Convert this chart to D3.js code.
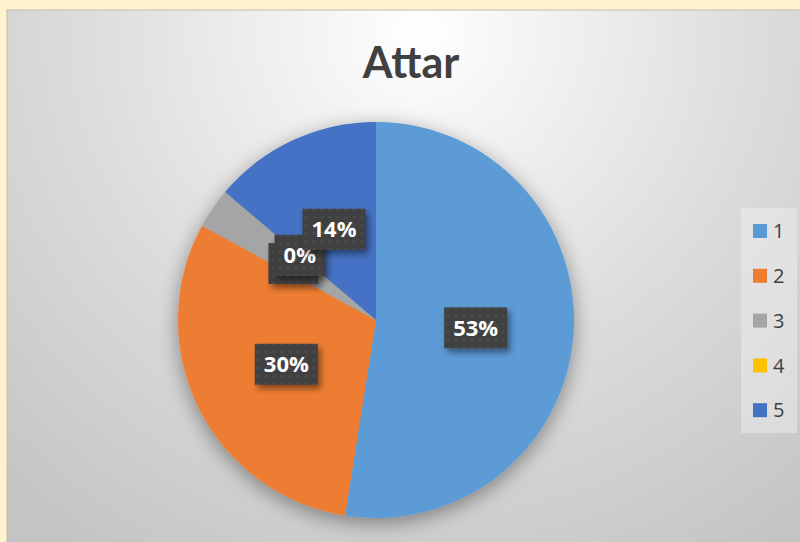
<!DOCTYPE html>
<html>
<head>
<meta charset="utf-8">
<script src="https://cdn.jsdelivr.net/npm/d3@7"></script>
<style>
  html, body { margin: 0; padding: 0; background: #fff2cc; }
  svg { display: block; }
</style>
</head>
<body>
<svg id="chart" width="800" height="542"></svg>
<script>
// data
var categories = ["1", "2", "3", "4", "5"];
var values = [52.5, 30.4, 3.3, 0, 13.8];
// slice 3's label sits hidden under the 0% box, only its box edge shows
var labels = ["53%", "30%", "", "0%", "14%"];
var colors = ["#5b9bd5", "#ed7d31", "#a5a5a5", "#ffc000", "#4472c4"];
var title = "Attar";

var svg = d3.select("#chart"),
    width = +svg.attr("width"),
    height = +svg.attr("height");

var defs = svg.append("defs");

var bg = defs.append("radialGradient")
    .attr("id", "bg")
    .attr("gradientUnits", "userSpaceOnUse")
    .attr("cx", 420).attr("cy", 30).attr("r", 620);
bg.append("stop").attr("offset", "0").attr("stop-color", "#ffffff");
bg.append("stop").attr("offset", "0.55").attr("stop-color", "#dcdcdc");
bg.append("stop").attr("offset", "1").attr("stop-color", "#c4c4c4");

var pieShadow = defs.append("filter").attr("id", "pieShadow")
    .attr("x", "-20%").attr("y", "-20%").attr("width", "140%").attr("height", "140%");
pieShadow.append("feDropShadow")
    .attr("dx", 0).attr("dy", 5).attr("stdDeviation", 10)
    .attr("flood-color", "#000").attr("flood-opacity", 0.4);

var boxShadow = defs.append("filter").attr("id", "boxShadow")
    .attr("x", "-30%").attr("y", "-30%").attr("width", "160%").attr("height", "160%");
boxShadow.append("feDropShadow")
    .attr("dx", 3).attr("dy", 4).attr("stdDeviation", 3)
    .attr("flood-color", "#000").attr("flood-opacity", 0.45);

var dots = defs.append("pattern")
    .attr("id", "dots")
    .attr("patternUnits", "userSpaceOnUse")
    .attr("width", 8).attr("height", 8);
dots.append("rect").attr("width", 8).attr("height", 8).attr("fill", "#404040");
dots.append("circle").attr("cx", 4).attr("cy", 4).attr("r", 1.6).attr("fill", "#4c4c4c");

// chart area
svg.append("rect")
    .attr("x", 7).attr("y", 10)
    .attr("width", width).attr("height", height)
    .attr("fill", "url(#bg)")
    .attr("stroke", "#bdbdbd");

svg.append("text")
    .attr("x", 411).attr("y", 78)
    .attr("text-anchor", "middle")
    .style("font-family", "Lato, 'Open Sans', sans-serif")
    .style("font-weight", "bold")
    .style("font-size", "43px")
    .attr("fill", "#404040")
    .text(title);

var radius = 198;
var g = svg.append("g")
    .attr("transform", "translate(376,320)");

var pie = d3.pie().sort(null).value(function(d) { return d; });
var arc = d3.arc().innerRadius(0).outerRadius(radius);
var labelArc = d3.arc().innerRadius(100).outerRadius(100);

var arcs = pie(values);

g.append("g")
    .attr("filter", "url(#pieShadow)")
    .selectAll("path")
    .data(arcs)
    .enter().append("path")
    .attr("fill", function(d, i) { return colors[i]; })
    .attr("d", arc);

var lab = g.selectAll(".lab")
    .data(arcs)
    .enter().append("g")
    .attr("class", "lab")
    .attr("transform", function(d) { return "translate(" + labelArc.centroid(d) + ")"; });

var box = lab.append("rect")
    .attr("fill", "url(#dots)")
    .attr("filter", "url(#boxShadow)");

var txt = lab.append("text")
    .attr("text-anchor", "middle")
    .attr("dy", "0.36em")
    .style("font-family", "'Open Sans', sans-serif")
    .style("font-weight", "bold")
    .style("font-size", "22px")
    .attr("fill", "#ffffff")
    .text(function(d, i) { return labels[i]; });

txt.each(function(d, i) {
    var w = Math.max(this.getComputedTextLength() + 18, 50);
    d3.select(box.nodes()[i])
        .attr("x", -w / 2).attr("y", -20.5)
        .attr("width", w).attr("height", 41);
});

// legend
var legend = svg.append("g");
legend.append("rect")
    .attr("x", 741).attr("y", 208)
    .attr("width", 56).attr("height", 225)
    .attr("fill", "#f2f2f2").attr("fill-opacity", 0.45);

var item = legend.selectAll(".item")
    .data(categories)
    .enter().append("g")
    .attr("class", "item")
    .attr("transform", function(d, i) { return "translate(753," + (231 + i * 44.8) + ")"; });

item.append("rect")
    .attr("x", 0).attr("y", -7)
    .attr("width", 14).attr("height", 14)
    .attr("fill", function(d, i) { return colors[i]; });

item.append("text")
    .attr("x", 20).attr("dy", "0.36em")
    .style("font-family", "'Open Sans', sans-serif")
    .style("font-size", "20px")
    .attr("fill", "#404040")
    .text(function(d) { return d; });
</script>
</body>
</html>
